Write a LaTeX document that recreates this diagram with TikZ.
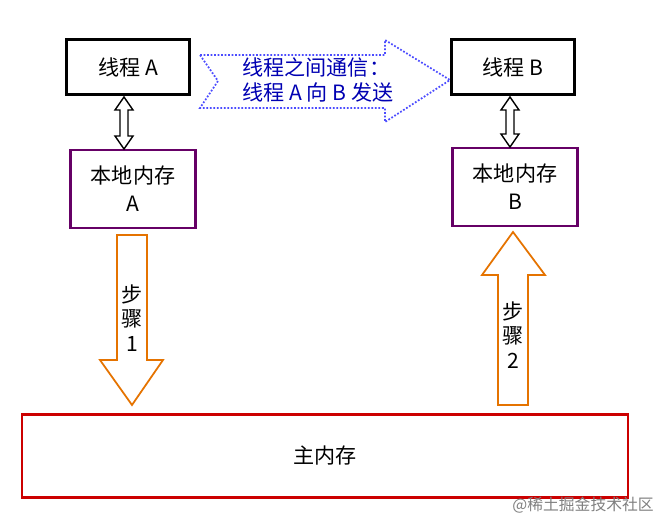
\documentclass[tikz,border=0pt]{standalone}
\usepackage{fontspec}
\setmainfont{Noto Sans CJK SC}
\usetikzlibrary{positioning}
\tikzset{
  thread/.style = {draw=black, line width=1.4pt, minimum width=2.46cm, minimum height=1.1cm, font=\large},
  local/.style = {draw=violet!80!black, line width=1.2pt, minimum width=2.5cm, minimum height=1.56cm, align=center, font=\large},
  fat/.style = {draw=orange!90!black, line width=1pt, fill=white},
  dbl/.style = {draw=black, line width=0.8pt, fill=white}
}
\begin{document}
\begin{tikzpicture}[x=0.02cm, y=-0.02cm]
        \useasboundingbox (0,0) rectangle (663,517);
        \node[thread] (ta) at (128,67) {线程 A};
        \node[thread] (tb) at (513,67) {线程 B};
        \node[local] (la) at (133,189) {本地内存\\[2pt]A};
        \node[local] (lb) at (515,187) {本地内存\\[2pt]B};
        \node[draw=red!80!black, line width=1.2pt, minimum width=12.12cm, minimum height=1.66cm, font=\large] (main) at (325,456) {主内存};
        % hollow double arrows
        \draw[dbl] (124,97) -- (133,110) -- (128,110) -- (128,136) -- (133,136) -- (124,149) -- (115,136) -- (120,136) -- (120,110) -- (115,110) -- cycle;
        \draw[dbl] (510,97) -- (519,110) -- (514,110) -- (514,134) -- (519,134) -- (510,147) -- (501,134) -- (506,134) -- (506,110) -- (501,110) -- cycle;
        % communication arrow
        \draw[blue!70, densely dotted, line width=1pt] (200,55) -- (385,55) -- (385,40) -- (450,80) -- (385,122) -- (385,108) -- (200,108) -- (218,81) -- cycle;
        \node[blue!70!black, align=left, font=\large] (msg) at (318,80) {线程之间通信：\\线程 A 向 B 发送};
        % step arrows
        \draw[fat] (117,235) -- (147,235) -- (147,360) -- (163,360) -- (132,405) -- (100,360) -- (117,360) -- cycle;
        \node[align=center, font=\large] (s1) at (132,318) {步\\骤\\1};
        \draw[fat] (498,405) -- (528,405) -- (528,275) -- (545,275) -- (513,232) -- (482,275) -- (498,275) -- cycle;
        \node[align=center, font=\large] (s2) at (513,335) {步\\骤\\2};
        \node[gray, font=\small, anchor=east] (mark) at (660,505) {@稀土掘金技术社区};
        \end{tikzpicture}
\end{document}
